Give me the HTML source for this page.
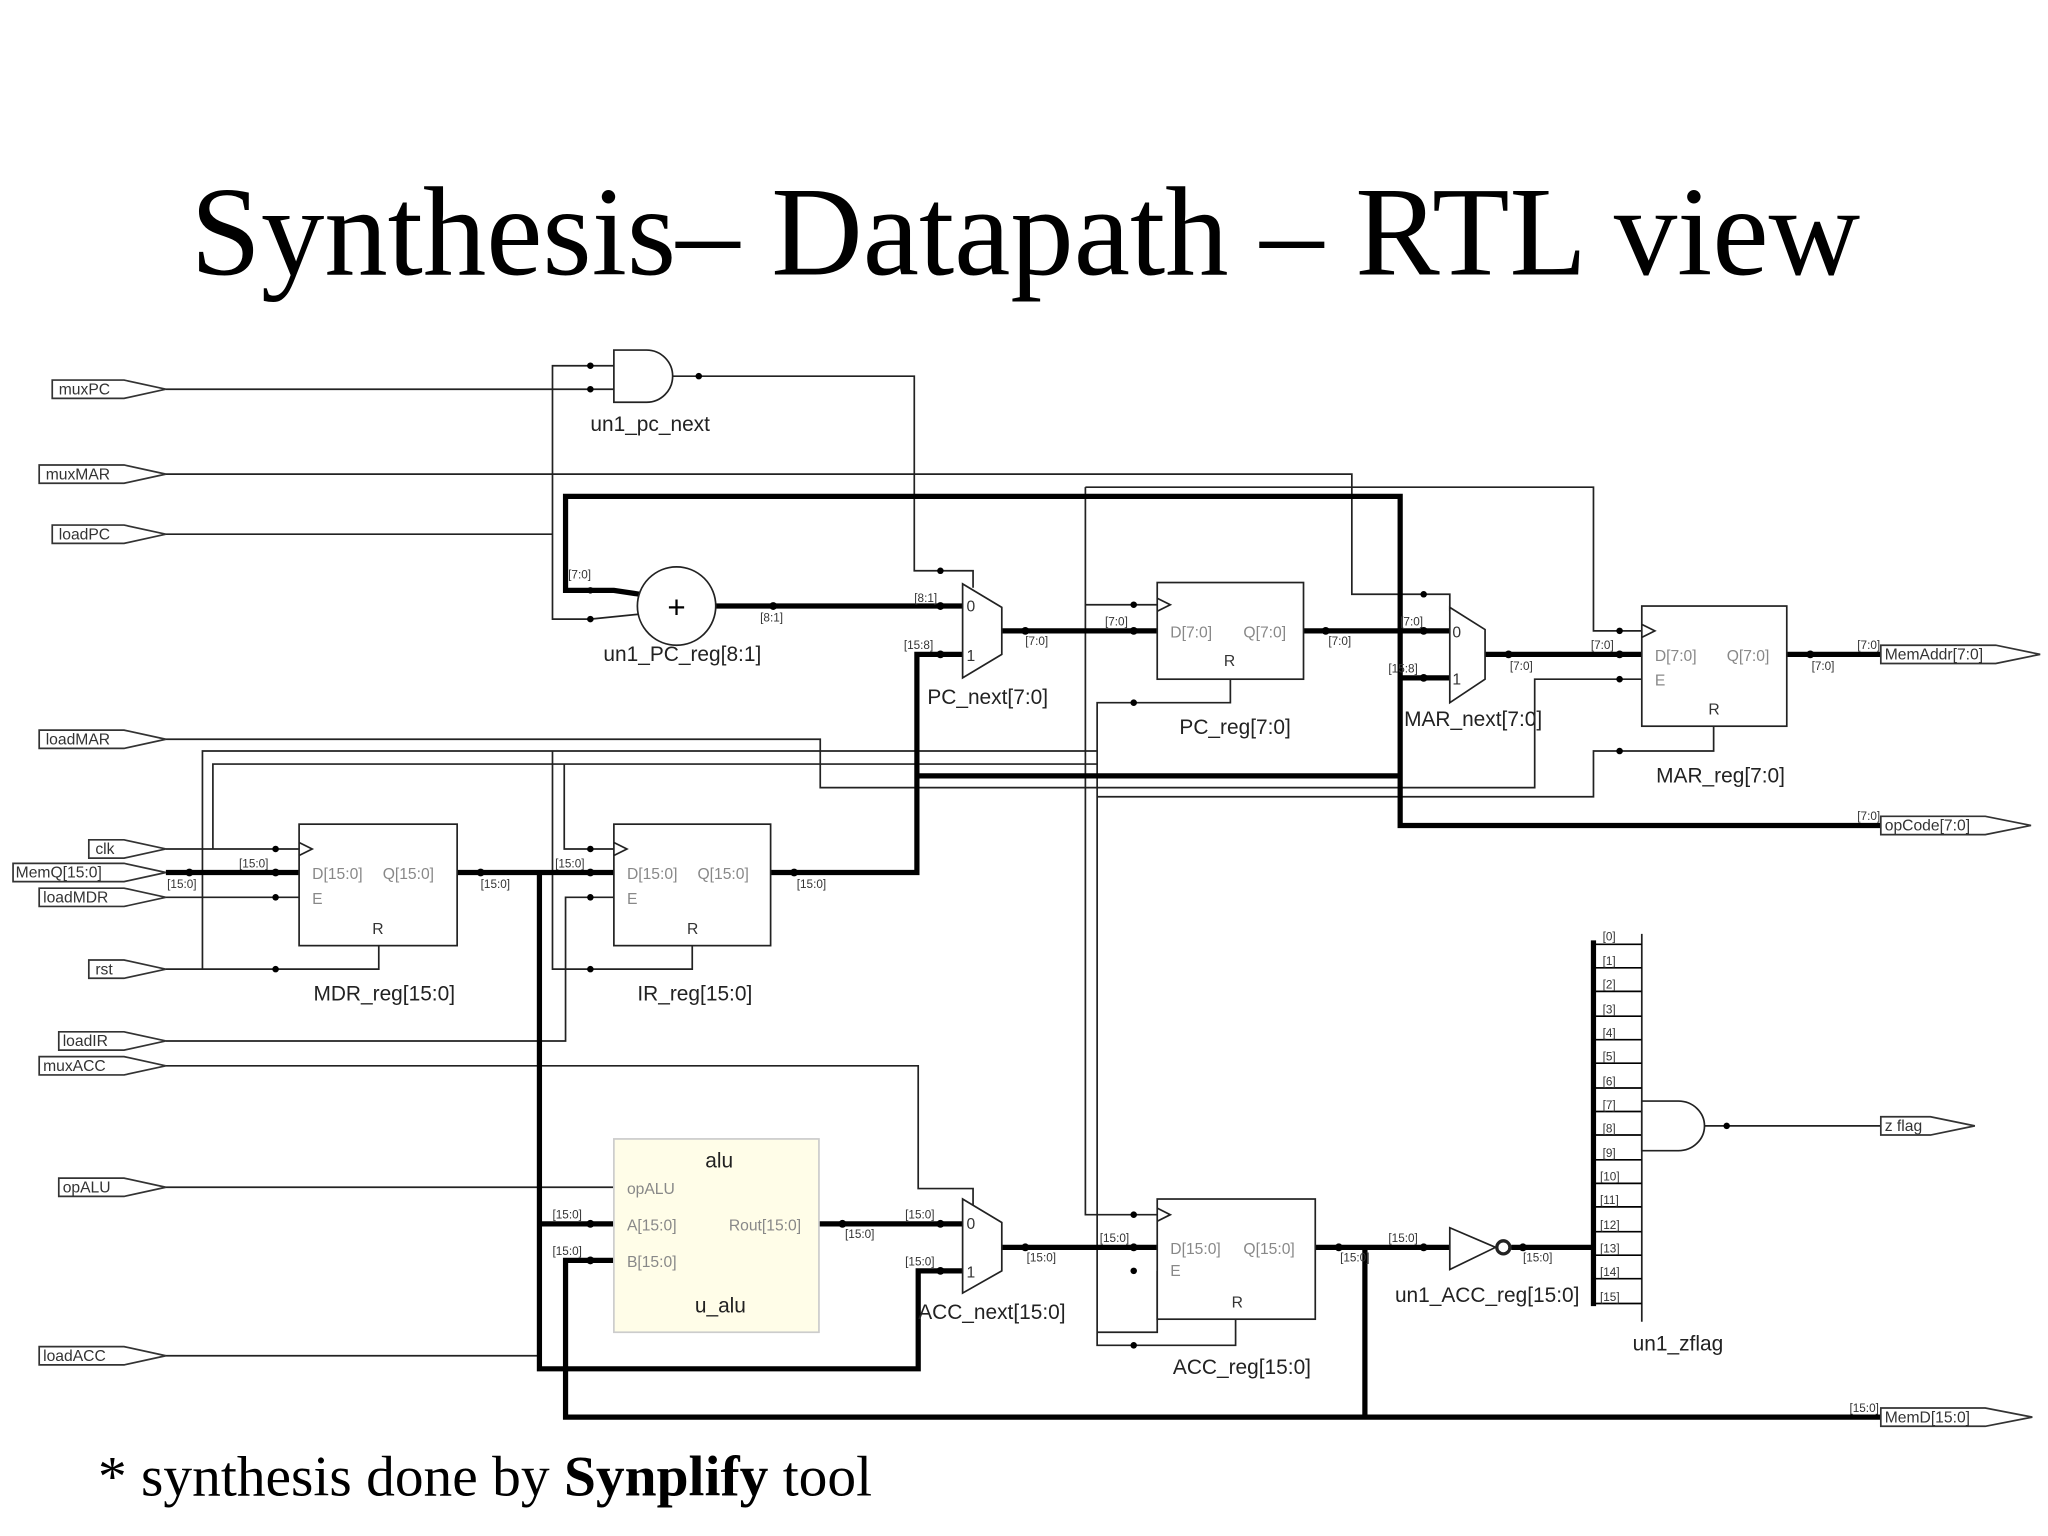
<!DOCTYPE html>
<html><head><meta charset="utf-8"><style>
html,body{margin:0;padding:0;background:#fff}
svg{display:block}
.t{font-family:"Liberation Sans",sans-serif;fill:#222}
.s{font-family:"Liberation Sans",sans-serif;font-size:9px;fill:#333}
.p{font-family:"Liberation Sans",sans-serif;font-size:12px;fill:#333}
.in{font-family:"Liberation Sans",sans-serif;font-size:12px;fill:#888}
</style></head><body>
<svg width="2048" height="1536" viewBox="0 0 1568 1176" xmlns="http://www.w3.org/2000/svg">
<rect width="1568" height="1176" fill="#fff"/>
<text x="785" y="210" text-anchor="middle" font-family="Liberation Serif,serif" font-size="97" fill="#000">Synthesis– Datapath – RTL view</text>
<text x="75" y="1145" font-family="Liberation Serif,serif" font-size="44" fill="#000">* synthesis done by <tspan font-weight="bold">Synplify</tspan> tool</text>

<g fill="none" stroke="#222" stroke-width="1.3">
<polyline points="127,298 470,298"/>
<polyline points="470,280 423,280 423,474 452,474 492,470"/>
<polyline points="127,409 423,409"/>
<polyline points="515,288 700,288 700,437 745,437 745,450"/>
<polyline points="127,363 1035,363 1035,455 1110,455 1110,468"/>
<polyline points="831,373 1220,373 1220,483 1257,483"/>
<polyline points="831,373 831,930 886,930"/>
<polyline points="831,463 886,463"/>
<polyline points="942,520 942,538 840,538 840,1030 946,1030 946,1010"/>
<polyline points="127,566 628,566 628,603 1175,603 1175,520 1257,520"/>
<polyline points="1312,556 1312,575 1220,575 1220,610 840,610"/>
<polyline points="127,742 290,742 290,724"/>
<polyline points="155,742 155,575 840,575"/>
<polyline points="127,650 229,650"/>
<polyline points="163,650 163,585 840,585"/>
<polyline points="432,585 432,650 470,650"/>
<polyline points="423,575 423,742 530,742 530,724"/>
<polyline points="127,687 229,687"/>
<polyline points="127,797 433,797 433,687 470,687"/>
<polyline points="127,816 703,816 703,910 745,910 745,925"/>
<polyline points="127,909 470,909"/>
<polyline points="127,1038 413,1038"/>
<polyline points="840,1020 886,1020 886,973"/>
<polyline points="1305,862 1440,862"/>
<line x1="1257" y1="715" x2="1257" y2="1012"/>
</g>
<g fill="none" stroke="#000" stroke-width="4">
<polyline points="490,455 470,452 433,452 433,380 1072,380 1072,632 1440,632"/>
<polyline points="548,464 737,464"/>
<polyline points="767,483 886,483"/>
<polyline points="998,483 1110,483"/>
<polyline points="1072,519 1110,519"/>
<polyline points="1137,501 1257,501"/>
<polyline points="1368,501 1440,501"/>
<polyline points="702,594 1072,594"/>
<polyline points="127,668 229,668"/>
<polyline points="350,668 470,668"/>
<polyline points="590,668 702,668 702,501 737,501"/>
<polyline points="413,668 413,1048 703,1048 703,973 737,973"/>
<polyline points="413,937 470,937"/>
<polyline points="627,937 737,937"/>
<polyline points="767,955 886,955"/>
<polyline points="1007,955 1110,955"/>
<polyline points="1157,955 1220,955"/>
<polyline points="1220,720 1220,1000"/>
<polyline points="470,965 433,965 433,1085 1440,1085"/>
<polyline points="1045,955 1045,1085"/>
</g>
<g stroke="#000" stroke-width="1.3">
<line x1="1220" y1="723" x2="1257" y2="723"/><line x1="1220" y1="741" x2="1257" y2="741"/><line x1="1220" y1="759" x2="1257" y2="759"/><line x1="1220" y1="778" x2="1257" y2="778"/><line x1="1220" y1="796" x2="1257" y2="796"/><line x1="1220" y1="814" x2="1257" y2="814"/><line x1="1220" y1="833" x2="1257" y2="833"/><line x1="1220" y1="851" x2="1257" y2="851"/><line x1="1220" y1="869" x2="1257" y2="869"/><line x1="1220" y1="888" x2="1257" y2="888"/><line x1="1220" y1="906" x2="1257" y2="906"/><line x1="1220" y1="924" x2="1257" y2="924"/><line x1="1220" y1="943" x2="1257" y2="943"/><line x1="1220" y1="961" x2="1257" y2="961"/><line x1="1220" y1="979" x2="1257" y2="979"/><line x1="1220" y1="998" x2="1257" y2="998"/>
</g>
<g class="s">
<text x="1227" y="720">[0]</text><text x="1227" y="739">[1]</text><text x="1227" y="757">[2]</text><text x="1227" y="776">[3]</text><text x="1227" y="794">[4]</text><text x="1227" y="812">[5]</text><text x="1227" y="831">[6]</text><text x="1227" y="849">[7]</text><text x="1227" y="867">[8]</text><text x="1227" y="886">[9]</text><text x="1225" y="904">[10]</text><text x="1225" y="922">[11]</text><text x="1225" y="941">[12]</text><text x="1225" y="959">[13]</text><text x="1225" y="977">[14]</text><text x="1225" y="996">[15]</text>
<text x="435" y="443">[7:0]</text><text x="582" y="476">[8:1]</text><text x="700" y="461">[8:1]</text><text x="692" y="497">[15:8]</text><text x="785" y="494">[7:0]</text>
<text x="846" y="479">[7:0]</text><text x="1017" y="494">[7:0]</text><text x="1072" y="479">[7:0]</text><text x="1063" y="515">[15:8]</text><text x="1156" y="513">[7:0]</text><text x="1218" y="497">[7:0]</text><text x="1387" y="513">[7:0]</text><text x="1422" y="497">[7:0]</text><text x="1422" y="628">[7:0]</text>
<text x="183" y="664">[15:0]</text><text x="128" y="680">[15:0]</text><text x="368" y="680">[15:0]</text><text x="425" y="664">[15:0]</text><text x="610" y="680">[15:0]</text>
<text x="423" y="933">[15:0]</text><text x="423" y="961">[15:0]</text><text x="647" y="948">[15:0]</text><text x="693" y="933">[15:0]</text><text x="693" y="969">[15:0]</text><text x="786" y="966">[15:0]</text>
<text x="842" y="951">[15:0]</text><text x="1026" y="966">[15:0]</text><text x="1063" y="951">[15:0]</text><text x="1166" y="966">[15:0]</text><text x="1416" y="1081">[15:0]</text>
</g>
<g fill="#000">
<circle cx="452" cy="280" r="2.5"/><circle cx="452" cy="298" r="2.5"/><circle cx="535" cy="288" r="2.5"/><circle cx="452" cy="452" r="2.5"/><circle cx="452" cy="474" r="2.5"/>
<circle cx="592" cy="464" r="3"/><circle cx="720" cy="464" r="3"/><circle cx="720" cy="437" r="2.5"/><circle cx="720" cy="501" r="3"/><circle cx="785" cy="483" r="3"/>
<circle cx="868" cy="483" r="3"/><circle cx="868" cy="463" r="2.5"/><circle cx="868" cy="538" r="2.5"/><circle cx="1015" cy="483" r="3"/><circle cx="1090" cy="483" r="3"/><circle cx="1090" cy="519" r="3"/><circle cx="1090" cy="455" r="2.5"/>
<circle cx="1155" cy="501" r="3"/><circle cx="1240" cy="501" r="3"/><circle cx="1240" cy="483" r="2.5"/><circle cx="1240" cy="520" r="2.5"/><circle cx="1240" cy="575" r="2.5"/><circle cx="1386" cy="501" r="3"/>
<circle cx="145" cy="668" r="3"/><circle cx="211" cy="668" r="3"/><circle cx="211" cy="650" r="2.5"/><circle cx="211" cy="687" r="2.5"/><circle cx="211" cy="742" r="2.5"/><circle cx="368" cy="668" r="3"/>
<circle cx="452" cy="668" r="3"/><circle cx="452" cy="650" r="2.5"/><circle cx="452" cy="687" r="2.5"/><circle cx="452" cy="742" r="2.5"/><circle cx="608" cy="668" r="3"/>
<circle cx="452" cy="937" r="3"/><circle cx="452" cy="965" r="3"/><circle cx="645" cy="937" r="3"/><circle cx="720" cy="937" r="3"/><circle cx="720" cy="973" r="3"/><circle cx="785" cy="955" r="3"/>
<circle cx="868" cy="955" r="3"/><circle cx="868" cy="930" r="2.5"/><circle cx="868" cy="973" r="2.5"/><circle cx="868" cy="1030" r="2.5"/><circle cx="1025" cy="955" r="3"/><circle cx="1090" cy="955" r="3"/><circle cx="1166" cy="955" r="3"/><circle cx="1322" cy="862" r="2.5"/>
</g>
<g fill="#fff" stroke="#222" stroke-width="1.3">
<path d="M470,268 L495,268 A20,20 0 0 1 495,308 L470,308 Z"/>
<circle cx="518" cy="464" r="30"/>
<path d="M737,447 L767,465 L767,501 L737,519 Z"/>
<path d="M1110,465 L1137,482 L1137,520 L1110,538 Z"/>
<path d="M737,918 L767,936 L767,973 L737,990 Z"/>
<rect x="886" y="446" width="112" height="74"/>
<rect x="1257" y="464" width="111" height="92"/>
<rect x="229" y="631" width="121" height="93"/>
<rect x="470" y="631" width="120" height="93"/>
<rect x="886" y="918" width="121" height="92"/>
<rect x="470" y="872" width="157" height="148" fill="#fffde8" stroke="#ccc"/>
<path d="M1110,940 L1145,955 L1110,972 Z"/>
<circle cx="1151" cy="955" r="5" stroke-width="2.5"/>
<path d="M1257,843 L1285,843 A20,19 0 0 1 1285,881 L1257,881 Z"/>
<path d="M886,458 L896,463 L886,468" fill="none"/><path d="M1257,478 L1267,483 L1257,488" fill="none"/>
<path d="M229,645 L239,650 L229,655" fill="none"/><path d="M470,645 L480,650 L470,655" fill="none"/><path d="M886,925 L896,930 L886,935" fill="none"/>
</g>
<text x="518" y="473" text-anchor="middle" font-family="Liberation Sans,sans-serif" font-size="24" fill="#000">+</text>
<g class="p"><text x="740" y="468">0</text><text x="740" y="506">1</text><text x="1112" y="488">0</text><text x="1112" y="524">1</text><text x="740" y="941">0</text><text x="740" y="978">1</text></g>
<g class="in">
<text x="896" y="488">D[7:0]</text><text x="952" y="488">Q[7:0]</text>
<text x="1267" y="506">D[7:0]</text><text x="1322" y="506">Q[7:0]</text><text x="1267" y="525">E</text>
<text x="239" y="673">D[15:0]</text><text x="293" y="673">Q[15:0]</text><text x="239" y="692">E</text>
<text x="480" y="673">D[15:0]</text><text x="534" y="673">Q[15:0]</text><text x="480" y="692">E</text>
<text x="896" y="960">D[15:0]</text><text x="952" y="960">Q[15:0]</text><text x="896" y="977">E</text>
<text x="480" y="914">opALU</text><text x="480" y="942">A[15:0]</text><text x="558" y="942">Rout[15:0]</text><text x="480" y="970">B[15:0]</text>
</g>
<g class="p" fill="#222"><text x="937" y="510">R</text><text x="1308" y="547">R</text><text x="285" y="715">R</text><text x="526" y="715">R</text><text x="943" y="1001">R</text></g>
<g class="t" font-size="16">
<text x="540" y="894">alu</text><text x="532" y="1005">u_alu</text>
<text x="452" y="330">un1_pc_next</text><text x="462" y="506">un1_PC_reg[8:1]</text><text x="710" y="539">PC_next[7:0]</text>
<text x="903" y="562">PC_reg[7:0]</text><text x="1075" y="556">MAR_next[7:0]</text><text x="1268" y="599">MAR_reg[7:0]</text>
<text x="240" y="766">MDR_reg[15:0]</text><text x="488" y="766">IR_reg[15:0]</text>
<text x="703" y="1010">ACC_next[15:0]</text><text x="898" y="1052">ACC_reg[15:0]</text><text x="1068" y="997">un1_ACC_reg[15:0]</text><text x="1250" y="1034">un1_zflag</text>
</g>
<g fill="#fff" stroke="#333" stroke-width="1.3">
<polygon points="40,291 95,291 127,298 95,305 40,305"/>
<polygon points="30,356 95,356 127,363 95,370 30,370"/>
<polygon points="40,402 95,402 127,409 95,416 40,416"/>
<polygon points="30,559 95,559 127,566 95,573 30,573"/>
<polygon points="68,643 95,643 127,650 95,657 68,657"/>
<polygon points="10,661 95,661 127,668 95,675 10,675"/>
<polygon points="30,680 95,680 127,687 95,694 30,694"/>
<polygon points="68,735 95,735 127,742 95,749 68,749"/>
<polygon points="45,790 95,790 127,797 95,804 45,804"/>
<polygon points="30,809 95,809 127,816 95,823 30,823"/>
<polygon points="45,902 95,902 127,909 95,916 45,916"/>
<polygon points="30,1031 95,1031 127,1038 95,1045 30,1045"/>
<polygon points="1440,494 1528,494 1562,501 1528,508 1440,508"/>
<polygon points="1440,625 1520,625 1555,632 1520,639 1440,639"/>
<polygon points="1440,855 1478,855 1512,862 1478,869 1440,869"/>
<polygon points="1440,1078 1520,1078 1556,1085 1520,1092 1440,1092"/>
</g>
<g class="p">
<text x="45" y="302">muxPC</text><text x="35" y="367">muxMAR</text><text x="45" y="413">loadPC</text><text x="35" y="570">loadMAR</text>
<text x="73" y="654">clk</text><text x="12" y="672">MemQ[15:0]</text><text x="33" y="691">loadMDR</text><text x="73" y="746">rst</text>
<text x="48" y="801">loadIR</text><text x="33" y="820">muxACC</text><text x="48" y="913">opALU</text><text x="33" y="1042">loadACC</text>
<text x="1443" y="505">MemAddr[7:0]</text><text x="1443" y="636">opCode[7:0]</text><text x="1443" y="866">z flag</text><text x="1443" y="1089">MemD[15:0]</text>
</g>
</svg>
</body></html>
